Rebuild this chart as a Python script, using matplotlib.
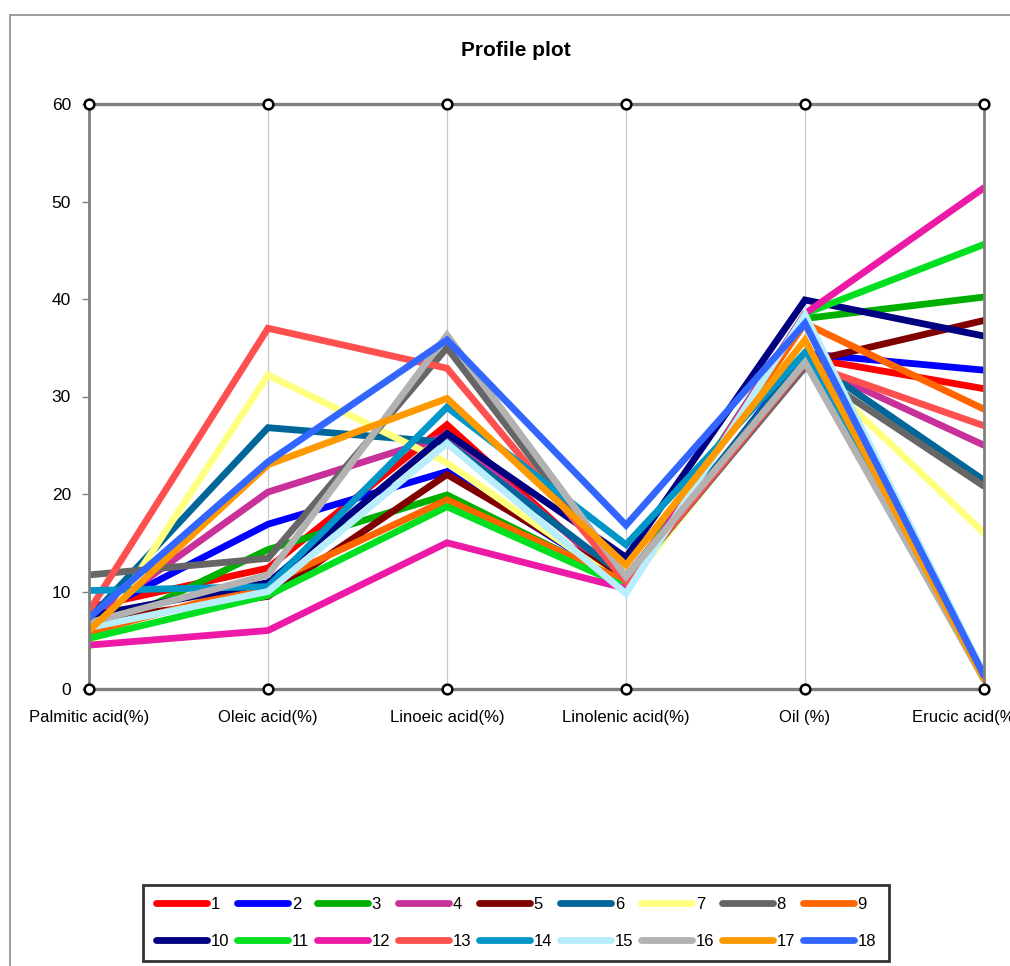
import matplotlib
matplotlib.use("Agg")
import matplotlib.pyplot as plt
from matplotlib.patches import Rectangle

plt.rcParams["font.family"] = ["Liberation Sans", "DejaVu Sans"]

# --- data ---
variables = ["Palmitic acid(%)", "Oleic acid(%)", "Linoeic acid(%)",
             "Linolenic acid(%)", "Oil (%)", "Erucic acid(%)"]
labels = [str(i) for i in range(1, 19)]

s1 = [8.4, 12.4, 27.1, 10.5, 34.0, 30.8]
s2 = [7.5, 16.9, 22.3, 10.8, 34.4, 32.7]
s3 = [5.5, 14.3, 19.9, 10.8, 38.0, 40.2]
s4 = [7.0, 20.2, 26.0, 11.0, 33.5, 25.0]
s5 = [7.0, 9.5, 22.0, 11.2, 33.5, 37.8]
s6 = [7.2, 26.8, 25.3, 11.5, 34.0, 21.4]
s7 = [4.2, 32.2, 23.2, 10.5, 33.5, 16.0]
s8 = [11.7, 13.4, 35.0, 11.0, 33.0, 20.8]
s9 = [5.8, 10.8, 19.4, 11.0, 37.5, 28.7]
s10 = [7.5, 10.9, 26.2, 13.5, 39.9, 36.2]
s11 = [5.2, 9.6, 18.7, 10.5, 38.5, 45.6]
s12 = [4.5, 6.0, 15.0, 10.3, 38.5, 51.4]
s13 = [8.0, 37.0, 32.9, 11.0, 33.4, 27.0]
s14 = [10.1, 10.5, 28.9, 14.8, 34.5, 1.0]
s15 = [6.3, 10.0, 25.2, 9.8, 38.4, 1.6]
s16 = [6.8, 11.7, 36.3, 11.5, 33.5, 1.0]
s17 = [6.0, 23.0, 29.8, 12.7, 35.8, 1.0]
s18 = [7.3, 23.3, 35.8, 16.8, 37.5, 1.4]

series = [s1, s2, s3, s4, s5, s6, s7, s8, s9, s10,
          s11, s12, s13, s14, s15, s16, s17, s18]

colors = ["#FF0000", "#0000FF", "#00B000", "#C8309A", "#800000", "#006699",
          "#FFFF80", "#666666", "#FF6600", "#000080", "#00E020", "#EC1AA6",
          "#FF5050", "#0096C8", "#B8EEFC", "#B2B2B2", "#FF9900", "#3366FF"]

W, H = 1010, 966
fig = plt.figure(figsize=(W / 100, H / 100), dpi=100)

# outer chart border (cropped on the right and bottom)
fig.add_artist(Rectangle((10 / W, -0.05), 1.2, 1 - 15 / H + 0.05,
                         transform=fig.transFigure, fill=False,
                         edgecolor="#8C8C8C", lw=1.2))

ax = fig.add_axes([89 / W, 1 - 689 / H, (984 - 89) / W, (689 - 104) / H])
x = list(range(len(variables)))

for xi in x[1:-1]:
    ax.axvline(xi, color="#C8C8C8", lw=0.9, zorder=0)

handles = []
for vals, c, lab in zip(series, colors, labels):
    (ln,) = ax.plot(x, vals, color=c, lw=4.9, solid_capstyle="round",
                    solid_joinstyle="miter", label=lab, zorder=2)
    handles.append(ln)

# heavy top / bottom lines with open circle markers
for yv in (0, 60):
    ax.plot(x, [yv] * len(x), color="#7F7F7F", lw=2.4, zorder=3,
            clip_on=False)
    ax.plot(x, [yv] * len(x), ls="none", marker="o", ms=7, mfc="white",
            mec="black", mew=1.8, zorder=4, clip_on=False)

ax.set_xlim(0, len(variables) - 1)
ax.set_ylim(0, 60)
ax.set_yticks(range(0, 61, 10))
ax.set_xticks([])
for side in ("top", "bottom"):
    ax.spines[side].set_visible(False)
for side in ("left", "right"):
    ax.spines[side].set_color("#7F7F7F")
    ax.spines[side].set_linewidth(2)
ax.tick_params(axis="y", length=5, width=1, color="#7F7F7F",
               labelsize=12.5, pad=8)

for xi, name in zip(x[:-1], variables[:-1]):
    ax.text(xi, -2.9, name, ha="center", va="center", fontsize=12,
            clip_on=False)
# last label is pushed left and runs off the right edge, as in the source
ax.annotate(variables[-1], (x[-1], -2.9), xytext=(-52, 0),
            textcoords="offset points", ha="left", va="center", fontsize=12,
            annotation_clip=False)

fig.text(516 / W, 1 - 50 / H, "Profile plot", ha="center", va="center",
         fontsize=15, fontweight="bold")

# legend filled row by row (matplotlib fills columns first)
ncol, nrow = 9, 2
order = [r * ncol + c for c in range(ncol) for r in range(nrow)]
leg = fig.legend([handles[i] for i in order], [labels[i] for i in order],
                 loc="center", bbox_to_anchor=(516 / W, 1 - 923 / H),
                 ncol=ncol, fontsize=12, handlelength=3.1, handletextpad=0.2,
                 columnspacing=0.45, labelspacing=1.3, frameon=True,
                 fancybox=False, borderpad=0.75, borderaxespad=0)
leg.get_frame().set_edgecolor("black")
leg.get_frame().set_linewidth(2)

fig.savefig("out.png", dpi=100)
